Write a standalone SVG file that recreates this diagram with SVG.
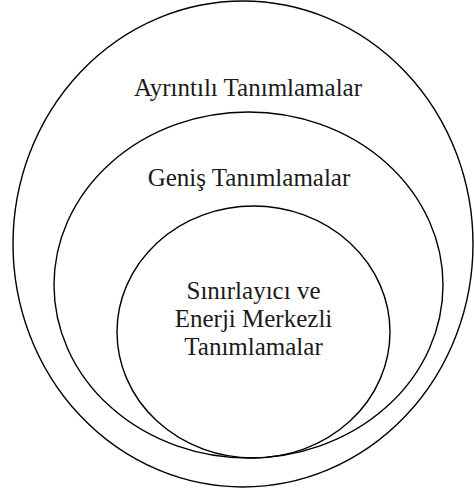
<svg xmlns="http://www.w3.org/2000/svg" width="474" height="493" viewBox="0 0 474 493">
<style>
.ring{fill:none;stroke:#000;stroke-width:1.4}
.lbl{fill:#1a1a1a;text-anchor:middle}
</style>
<rect width="474" height="493" fill="#fff"/>
<g id="outer">
<ellipse class="ring" cx="243" cy="244" rx="230" ry="243"/>
<text class="lbl" font-family="Liberation Serif, Times New Roman, serif" font-size="25" x="248" y="96">Ayrıntılı Tanımlamalar</text>
</g>
<g id="middle">
<ellipse class="ring" cx="248.5" cy="285" rx="194.5" ry="173"/>
<text class="lbl" font-family="Liberation Serif, Times New Roman, serif" font-size="25" x="249" y="186">Geniş Tanımlamalar</text>
</g>
<g id="inner">
<ellipse class="ring" cx="253.5" cy="332" rx="136.5" ry="126"/>
<text class="lbl" font-family="Liberation Serif, Times New Roman, serif" font-size="25" x="253.5" y="299">Sınırlayıcı ve</text>
<text class="lbl" font-family="Liberation Serif, Times New Roman, serif" font-size="25" x="253.5" y="327">Enerji Merkezli</text>
<text class="lbl" font-family="Liberation Serif, Times New Roman, serif" font-size="25" x="253.5" y="355">Tanımlamalar</text>
</g>
<g id="connectors"/>
</svg>
